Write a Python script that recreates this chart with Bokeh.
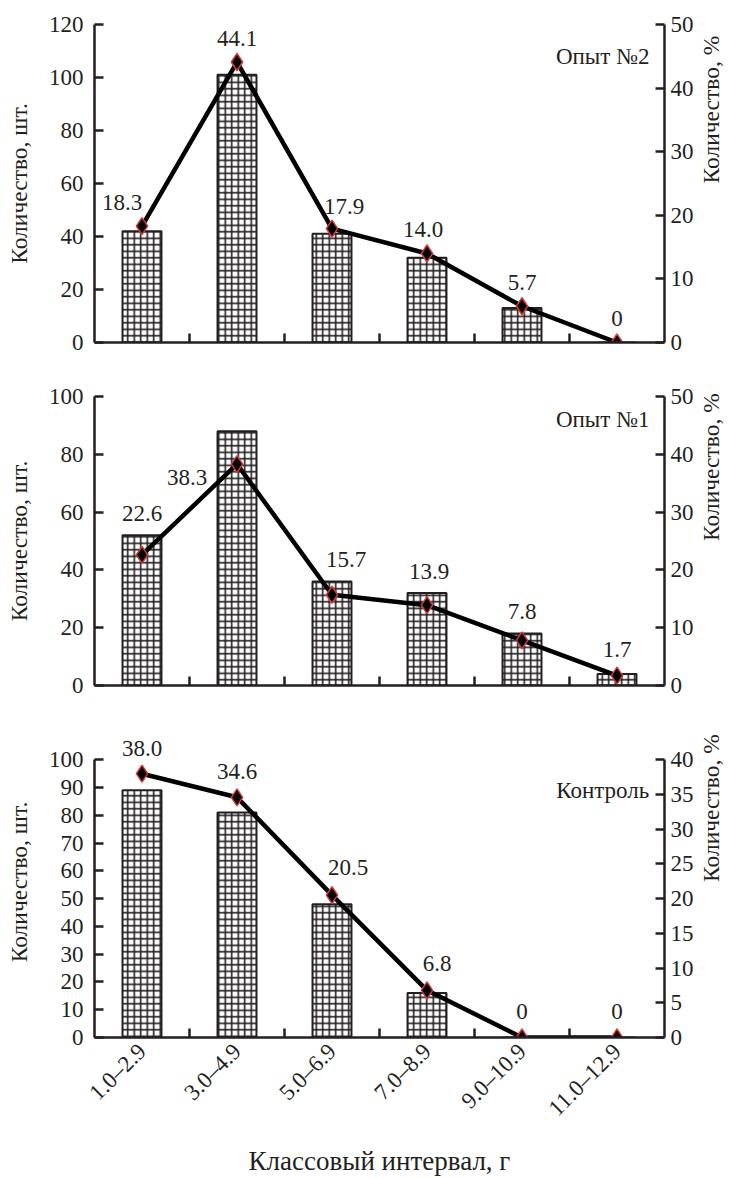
import math
from bokeh.plotting import figure
from bokeh.models import Range1d, LinearAxis, FixedTicker, Label, LabelSet, ColumnDataSource
from bokeh.layouts import column
from bokeh.embed import file_html
from bokeh.resources import INLINE

categories = ["1.0–2.9", "3.0–4.9", "5.0–6.9", "7.0–8.9", "9.0–10.9", "11.0–12.9"]

counts_exp2 = [42, 101, 41, 32, 13, 0]
pct_exp2 = [18.3, 44.1, 17.9, 14.0, 5.7, 0]

counts_exp1 = [52, 88, 36, 32, 18, 4]
pct_exp1 = [22.6, 38.3, 15.7, 13.9, 7.8, 1.7]

counts_ctrl = [89, 81, 48, 16, 0, 0]
pct_ctrl = [38.0, 34.6, 20.5, 6.8, 0, 0]

titles = ["Опыт №2", "Опыт №1", "Контроль"]
left_label = "Количество, шт."
right_label = "Количество, %"
x_label = "Классовый интервал, г"

FONT = "Liberation Serif"
INK = "#231f20"
FS = "23px"
FS_YTITLE = "23.5px"
FS_XTITLE = "27px"


def fmt(v):
    return "0" if v == 0 else f"{v:.1f}"


def panel(counts, pct, title, lmax, lstep, rmax, rstep, height, top, bottom,
          title_y, last, dx, dy, headroom=1.0):
    n = len(categories)
    xs = [2 * i + 1 for i in range(n)]
    p = figure(width=739, height=height, x_range=Range1d(0, 2 * n),
               y_range=Range1d(0, lmax * headroom), output_backend="svg",
               toolbar_location=None, min_border_left=94, min_border_right=67,
               min_border_top=top, min_border_bottom=bottom)
    p.outline_line_color = None
    p.xgrid.visible = False
    p.ygrid.visible = False
    p.extra_y_ranges = {"pct": Range1d(0, rmax * headroom)}

    p.vbar(x=xs, top=counts, width=0.82, fill_color="white", line_color=INK,
           line_width=2, hatch_pattern="+", hatch_color=INK, hatch_scale=6.5,
           hatch_weight=1.6)
    p.line(xs, pct, y_range_name="pct", line_width=4.5, line_color="black")
    p.scatter(xs, pct, y_range_name="pct", marker="diamond", size=17,
              fill_color="black", line_color="#d23a3a", line_width=1.5)

    # label anchor: above the higher of the bar top and the marker
    anchor = [max(c, v * lmax / rmax) for c, v in zip(counts, pct)]
    src = ColumnDataSource(dict(x=xs, y=anchor, t=[fmt(v) for v in pct], dx=dx, dy=dy))
    p.add_layout(LabelSet(x="x", y="y", text="t", x_offset="dx", y_offset="dy",
                          source=src, text_align="center", text_baseline="middle",
                          text_font=FONT, text_font_size=FS, text_color=INK))

    p.add_layout(Label(x=10.7, y=title_y, text=title, text_align="center",
                       text_baseline="middle", text_font=FONT,
                       text_font_size=FS, text_color=INK))

    ly = p.yaxis[0]
    ly.ticker = FixedTicker(ticks=list(range(0, lmax + 1, lstep)))
    ly.bounds = (0, lmax)
    ry = LinearAxis(y_range_name="pct",
                    ticker=FixedTicker(ticks=list(range(0, rmax + 1, rstep))),
                    axis_label=right_label, bounds=(0, rmax))
    p.add_layout(ry, "right")
    ly.axis_label = left_label
    for ax in (ly, ry):
        ax.major_tick_in = 9
        ax.major_tick_out = 0
        ax.minor_tick_in = 0
        ax.minor_tick_out = 0
        ax.axis_line_width = 2.5
        ax.axis_line_color = INK
        ax.major_tick_line_width = 2.5
        ax.major_tick_line_color = INK
        ax.major_label_text_font = FONT
        ax.major_label_text_font_size = FS
        ax.major_label_text_color = INK
        ax.axis_label_text_font = FONT
        ax.axis_label_text_font_size = FS_YTITLE
        ax.axis_label_text_font_style = "normal"
        ax.axis_label_text_color = INK
    ly.major_label_standoff = 11
    ly.axis_label_standoff = 14
    ry.major_label_standoff = 6
    ry.axis_label_standoff = 14
    ry.axis_label_orientation = math.pi / 2

    xa = p.xaxis[0]
    xa.ticker = FixedTicker(ticks=xs, minor_ticks=[2 * i for i in range(1, n)])
    xa.major_tick_in = 0
    xa.major_tick_out = 0
    xa.minor_tick_in = 9
    xa.minor_tick_out = 0
    xa.minor_tick_line_width = 2.5
    xa.minor_tick_line_color = INK
    xa.axis_line_width = 2.5
    xa.axis_line_color = INK
    xa.major_label_text_font = FONT
    xa.major_label_text_font_size = FS
    xa.major_label_text_color = INK
    if last:
        xa.major_label_overrides = {x: c for x, c in zip(xs, categories)}
        xa.major_label_orientation = math.pi / 4
        xa.major_label_standoff = 10
        xa.axis_label = x_label
        xa.axis_label_text_font = FONT
        xa.axis_label_text_font_size = FS_XTITLE
        xa.axis_label_text_font_style = "normal"
        xa.axis_label_text_color = INK
        xa.axis_label_standoff = 13
    else:
        xa.major_label_overrides = {x: "" for x in xs}
    return p


p1 = panel(counts_exp2, pct_exp2, titles[0], 120, 20, 50, 10, 370, 24, 28, 108, False,
           [-20, 0, 12, -4, 0, 0], [24, 24, 22, 24, 24, 24])
p2 = panel(counts_exp1, pct_exp1, titles[1], 100, 20, 50, 10, 350, 26, 35, 92, False,
           [0, -50, 14, 2, 0, 0], [22, -46, 22, 22, 22, 24])
p3 = panel(counts_ctrl, pct_ctrl, titles[2], 100, 10, 40, 5, 458, 6, 133, 89, True,
           [0, 0, 16, 10, 0, 0], [25, 26, 28, 27, 26, 26], headroom=1.12)

layout = column(p1, p2, p3, spacing=0)
open("out.html", "w").write(file_html(layout, INLINE))
